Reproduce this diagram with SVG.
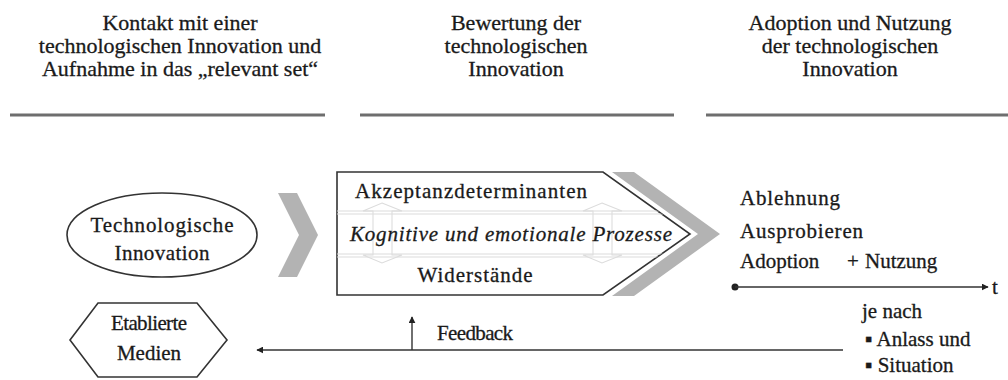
<svg xmlns="http://www.w3.org/2000/svg" width="1008" height="380" viewBox="0 0 1008 380">
<style>
text{font-family:"Liberation Serif","Times New Roman","DejaVu Serif",serif;fill:#1a1a1a;stroke:#1a1a1a;stroke-width:0.3;}
.h{font-size:22px;text-anchor:middle;}
.t{font-size:21px;}
.c{text-anchor:middle;}
.hl{stroke:#6e6e6e;stroke-width:3;fill:none;}
.sh{fill:#fff;stroke:#333;stroke-width:1.6;}
.gray{fill:#b3b3b3;stroke:none;}
.faint{fill:none;stroke:#dcdcdc;stroke-width:1.1;}
.ln{stroke:#333;stroke-width:1.4;fill:none;}
</style>
<defs>
<marker id="ah" viewBox="0 0 10 10" refX="9" refY="5" markerWidth="7" markerHeight="7" markerUnits="userSpaceOnUse" orient="auto"><path d="M0,0 L10,5 L0,10 Z" fill="#222"/></marker>
<clipPath id="pc"><polygon points="337,172 603,172 690,234 603,295 337,295"/></clipPath>
</defs>

<g id="headers">
<text class="h" x="180" y="30">Kontakt mit einer</text>
<text class="h" x="180" y="53">technologischen Innovation und</text>
<text class="h" x="180" y="76">Aufnahme in das „relevant set“</text>
<line class="hl" x1="10" y1="115" x2="325" y2="115"/>
<text class="h" x="516" y="30">Bewertung der</text>
<text class="h" x="516" y="53">technologischen</text>
<text class="h" x="516" y="76">Innovation</text>
<line class="hl" x1="360" y1="115" x2="674" y2="115"/>
<text class="h" x="850" y="30">Adoption und Nutzung</text>
<text class="h" x="850" y="53">der technologischen</text>
<text class="h" x="850" y="76">Innovation</text>
<line class="hl" x1="706" y1="115" x2="1008" y2="115"/>
</g>

<g id="technologische-innovation">
<ellipse class="sh" cx="162" cy="235" rx="95" ry="42"/>
<text class="t c" x="162" y="232" textLength="143">Technologische</text>
<text class="t c" x="162" y="260" textLength="95">Innovation</text>
</g>

<g id="chevron-left">
<polygon class="gray" points="278,193 297,193 318,235 297,277 278,277 299,235"/>
</g>

<g id="bewertung">
<polygon class="gray" points="612,172 634,172 720,234 634,296 612,296 698,234"/>
<polygon class="sh" points="337,172 603,172 690,234 603,295 337,295"/>
<g clip-path="url(#pc)">
<line class="faint" x1="337" y1="211" x2="700" y2="211"/>
<line class="faint" x1="337" y1="214" x2="700" y2="214"/>
<line class="faint" x1="337" y1="254" x2="700" y2="254"/>
<line class="faint" x1="337" y1="257" x2="700" y2="257"/>
</g>
<path class="faint" d="M382,203 L402,211 L392,211 L392,255 L402,255 L382,263 L363,255 L373,255 L373,211 L363,211 Z"/>
<path class="faint" d="M602,203 L622,211 L612,211 L612,255 L622,255 L602,263 L583,255 L593,255 L593,211 L583,211 Z"/>
<text class="t c" x="471" y="198" textLength="232">Akzeptanzdeterminanten</text>
<text class="t c" x="511" y="241" font-style="italic" font-size="22" textLength="322">Kognitive und emotionale Prozesse</text>
<text class="t c" x="475" y="282" textLength="115">Widerstände</text>
</g>

<g id="ergebnis">
<text class="t" x="740" y="205" textLength="100">Ablehnung</text>
<text class="t" x="740" y="238" textLength="123">Ausprobieren</text>
<text class="t" x="740" y="268"><tspan x="740">Adoption</tspan><tspan x="847">+</tspan><tspan x="865">Nutzung</tspan></text>
</g>

<g id="zeitachse">
<circle cx="735" cy="287" r="3.5" fill="#222"/>
<line class="ln" x1="735" y1="287" x2="988" y2="287" marker-end="url(#ah)"/>
<text class="t" x="992" y="294">t</text>
</g>

<g id="je-nach">
<text class="t" x="862" y="318">je nach</text>
<text class="t" x="865" y="346">▪ Anlass und</text>
<text class="t" x="865" y="372">▪ Situation</text>
</g>

<g id="etablierte-medien">
<polygon class="sh" points="70,340 98,303 197,303 227,340 197,377 98,377"/>
<text class="t c" x="149" y="330" font-size="20" textLength="76">Etablierte</text>
<text class="t c" x="149" y="360" font-size="20">Medien</text>
</g>

<g id="connectors">
<line class="ln" stroke-width="1.3" x1="843" y1="350" x2="257" y2="350" marker-end="url(#ah)"/>
<line class="ln" stroke-width="1.3" x1="412" y1="350" x2="412" y2="317" marker-end="url(#ah)"/>
<text class="t" x="437" y="340" font-size="20" textLength="76">Feedback</text>
</g>
</svg>
